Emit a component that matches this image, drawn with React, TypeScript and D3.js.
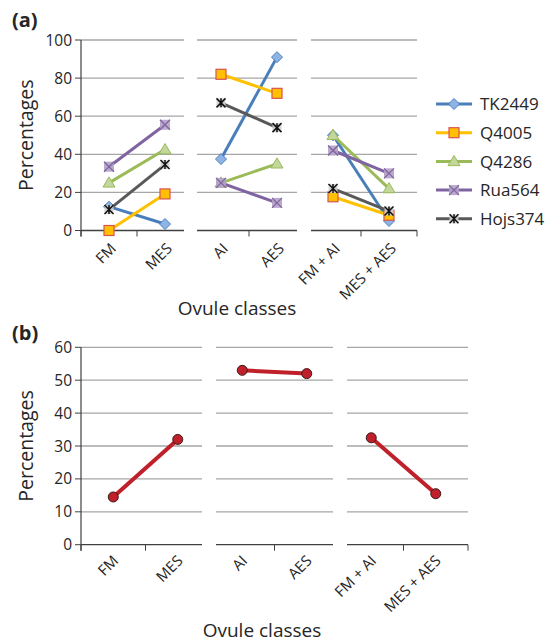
import React from 'react';
import * as d3 from 'd3';

const categories = ['FM', 'MES', 'AI', 'AES', 'FM + AI', 'MES + AES'];
const groupPairs = [[0, 1], [2, 3], [4, 5]];
const seriesNames = ['TK2449', 'Q4005', 'Q4286', 'Rua564', 'Hojs374'];
const tk2449 = [12.5, 3.4, 37.5, 91, 50, 5];
const q4005 = [0, 19.2, 82, 72, 17.7, 8];
const q4286 = [25, 42.5, 25, 35, 50, 22];
const rua564 = [33.5, 55.5, 25, 14.5, 42, 30];
const hojs374 = [11, 34.6, 67, 54, 22, 10.2];
const combined = [14.5, 32, 53, 52, 32.5, 15.5];
const ticksA = [0, 20, 40, 60, 80, 100];
const ticksB = [0, 10, 20, 30, 40, 50, 60];

const FONT = "'Open Sans', 'Noto Sans', sans-serif";
const TEXT = '#262626';
const GRID = '#a6a6a6';
const AXIS = '#404040';

const seriesValues = [tk2449, q4005, q4286, rua564, hojs374];
const seriesStyle = [
  { line: '#4a7ebb', fill: '#8db4e2', stroke: '#4a7ebb', marker: 'diamond' },
  { line: '#ffc000', fill: '#ffc000', stroke: '#d9534f', marker: 'square' },
  { line: '#9bbb59', fill: '#c3d69b', stroke: '#9bbb59', marker: 'triangle' },
  { line: '#8064a2', fill: '#b3a2c7', stroke: '#8064a2', marker: 'x' },
  { line: '#595959', fill: '#d0d0d0', stroke: '#111', marker: 'star' },
];

function Marker({ type, x, y, fill, stroke }: any) {
  if (type === 'diamond') {
    const s = 5.5;
    return <path d={`M${x},${y - s}L${x + s},${y}L${x},${y + s}L${x - s},${y}Z`} fill={fill} stroke={stroke} strokeWidth={1} />;
  }
  if (type === 'square') {
    const s = 5;
    return <rect x={x - s} y={y - s} width={2 * s} height={2 * s} fill={fill} stroke={stroke} strokeWidth={1.2} />;
  }
  if (type === 'triangle') {
    const s = 6;
    return <path d={`M${x},${y - s}L${x + s},${y + s * 0.7}L${x - s},${y + s * 0.7}Z`} fill={fill} stroke={stroke} strokeWidth={1} />;
  }
  if (type === 'x') {
    const s = 5;
    return (
      <g>
        <rect x={x - s} y={y - s} width={2 * s} height={2 * s} fill={fill} opacity={0.9} />
        <path d={`M${x - s},${y - s}L${x + s},${y + s}M${x + s},${y - s}L${x - s},${y + s}`} stroke={stroke} strokeWidth={1.3} />
      </g>
    );
  }
  const s = 4.5;
  return (
    <g>
      <rect x={x - s} y={y - s} width={2 * s} height={2 * s} fill={fill} opacity={0.9} />
      <path d={`M${x - s},${y - s}L${x + s},${y + s}M${x + s},${y - s}L${x - s},${y + s}M${x},${y - s}L${x},${y + s}`} stroke={stroke} strokeWidth={1.5} />
    </g>
  );
}

function Frame({ x, y, ticks, insets, labelDx, labelDy }: any) {
  const y0 = y.range()[0];
  const y1 = y.range()[1];
  const bw = x.bandwidth();
  const segs = groupPairs.map((g, i) => [x(categories[g[0]])! + insets[i][0], x(categories[g[1]])! + bw - insets[i][1]]);
  const left = x.range()[0];
  const right = x.range()[1];
  const tickXs = [left, ...groupPairs.map((g) => x(categories[g[1]])!), right];
  return (
    <g>
      {ticks.map((t: number) => (
        <g key={t}>
          {t !== 0 && segs.map((s, i) => (
            <line key={i} x1={s[0]} x2={s[1]} y1={y(t)} y2={y(t)} stroke={GRID} strokeWidth={1.3} />
          ))}
          <line x1={left - 6} x2={left} y1={y(t)} y2={y(t)} stroke={AXIS} strokeWidth={1} />
          <text x={left - 9} y={y(t)} dy="0.36em" textAnchor="end" fontSize={15.5} fill={TEXT} fontFamily={FONT}>{t}</text>
        </g>
      ))}
      <line x1={left} x2={left} y1={y1} y2={y0 + 6} stroke={AXIS} strokeWidth={1.2} />
      {segs.map((s, i) => (
        <line key={i} x1={s[0]} x2={s[1]} y1={y0} y2={y0} stroke={AXIS} strokeWidth={1.3} />
      ))}
      {tickXs.map((tx, i) => (
        <line key={i} x1={tx} x2={tx} y1={y0} y2={y0 + 6} stroke={AXIS} strokeWidth={1} />
      ))}
      {categories.map((c) => {
        const cx = x(c)! + bw / 2;
        return (
          <text key={c} transform={`translate(${cx + labelDx},${y0 + labelDy}) rotate(-45)`} textAnchor="end" fontSize={15} fill={TEXT} fontFamily={FONT}>{c}</text>
        );
      })}
    </g>
  );
}

export default function App() {
  const xA = d3.scaleBand<string>().domain(categories).range([81, 417]);
  const yA = d3.scaleLinear().domain([0, 100]).range([230.5, 40]);
  const xB = d3.scaleBand<string>().domain(categories).range([81, 468]);
  const yB = d3.scaleLinear().domain([0, 60]).range([544.7, 347.3]);
  const cxA = (i: number) => xA(categories[i])! + xA.bandwidth() / 2;
  const cxB = (i: number) => xB(categories[i])! + xB.bandwidth() / 2;

  return (
    <svg width={548} height={644} style={{ position: 'absolute', left: 0, top: 0, background: '#fff' }}>
      {/* Panel (a) */}
      <text x={12} y={27} fontSize={20} fontWeight="bold" fill={TEXT} fontFamily={FONT}>(a)</text>
      <Frame x={xA} y={yA} ticks={ticksA} insets={[[0, 9], [4, 8], [6, 0]]} labelDx={8} labelDy={19} />
      <text transform={`translate(33,${(yA(0) + yA(100)) / 2}) rotate(-90)`} textAnchor="middle" fontSize={19.5} fill={TEXT} fontFamily={FONT}>Percentages</text>
      <text x={237} y={315} textAnchor="middle" fontSize={19} fill={TEXT} fontFamily={FONT}>Ovule classes</text>
      {seriesValues.map((vals, si) => {
        const st = seriesStyle[si];
        return (
          <g key={si}>
            {groupPairs.map((g, gi) => {
              const path = d3.line<number>().x((i) => cxA(i)).y((i) => yA(vals[i]))(g);
              return <path key={gi} d={path!} fill="none" stroke={st.line} strokeWidth={3} />;
            })}
            {vals.map((v, i) => (
              <Marker key={i} type={st.marker} x={cxA(i)} y={yA(v)} fill={st.fill} stroke={st.stroke} />
            ))}
          </g>
        );
      })}
      {seriesNames.map((n, si) => {
        const st = seriesStyle[si];
        const ly = 104 + si * 28.7;
        return (
          <g key={n}>
            <line x1={436} x2={472} y1={ly} y2={ly} stroke={st.line} strokeWidth={3} />
            <Marker type={st.marker} x={454} y={ly} fill={st.fill} stroke={st.stroke} />
            <text x={480} y={ly} dy="0.36em" fontSize={17} fill={TEXT} fontFamily={FONT}>{n}</text>
          </g>
        );
      })}

      {/* Panel (b) */}
      <text x={12} y={340} fontSize={20} fontWeight="bold" fill={TEXT} fontFamily={FONT}>(b)</text>
      <Frame x={xB} y={yB} ticks={ticksB} insets={[[0, 8], [6, 6], [8, 0]]} labelDx={6} labelDy={17} />
      <text transform={`translate(33,${(yB(0) + yB(60)) / 2}) rotate(-90)`} textAnchor="middle" fontSize={19.5} fill={TEXT} fontFamily={FONT}>Percentages</text>
      <text x={262} y={637} textAnchor="middle" fontSize={19} fill={TEXT} fontFamily={FONT}>Ovule classes</text>
      {groupPairs.map((g, gi) => {
        const path = d3.line<number>().x((i) => cxB(i)).y((i) => yB(combined[i]))(g);
        return <path key={gi} d={path!} fill="none" stroke="#c0202a" strokeWidth={4} />;
      })}
      {combined.map((v, i) => (
        <circle key={i} cx={cxB(i)} cy={yB(v)} r={5} fill="#c0202a" stroke="#3a1a1a" strokeWidth={1} />
      ))}
    </svg>
  );
}
